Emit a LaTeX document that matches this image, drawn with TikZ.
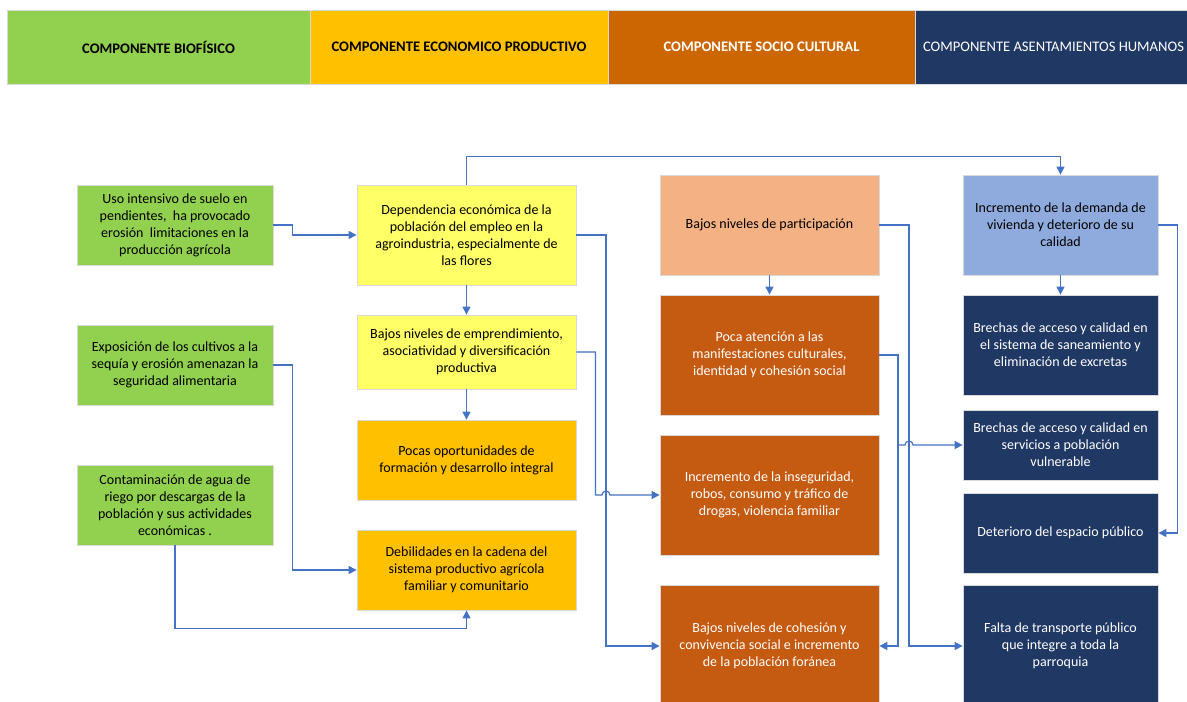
\documentclass[tikz,border=0pt]{standalone}
\usepackage{fontspec}
\setmainfont{Carlito}
\usepackage{tikz}
\usetikzlibrary{arrows.meta, calc}
\definecolor{verde}{HTML}{92D050}
\definecolor{ambar}{HTML}{FFC000}
\definecolor{amarillo}{HTML}{FFFF66}
\definecolor{salmon}{HTML}{F4B183}
\definecolor{oxido}{HTML}{C55A11}
\definecolor{naranja}{HTML}{CC6600}
\definecolor{marino}{HTML}{203864}
\definecolor{celeste}{HTML}{8FAADC}
\definecolor{linea}{HTML}{4472C4}
\definecolor{borde}{HTML}{D9D9D9}
\tikzstyle{caja} = [draw=borde, line width=0.8pt, align=center, inner sep=2pt, font=\fontsize{14}{17}\selectfont]
\tikzstyle{col1} = [caja, minimum width=196pt]
\tikzstyle{col2} = [caja, minimum width=219pt]
\tikzstyle{col4} = [caja, minimum width=195pt]
\tikzstyle{cabecera} = [draw=borde, line width=0.8pt, minimum height=74pt, font=\fontsize{14.6}{17}\selectfont\bfseries]
\tikzstyle{link} = [draw=linea, line width=1.2pt, -{Triangle[length=8pt,width=8pt]}]

\begin{document}
\begin{tikzpicture}[x=1pt, y=-1pt]
  \useasboundingbox (0,0) rectangle (1187,702);
  \fill[white] (0,0) rectangle (1187,702);
  \clip (0,0) rectangle (1187,702);

  % cabecera
  \node[cabecera, fill=verde, minimum width=303pt] (hbio) at (158.5,47) {COMPONENTE BIOFÍSICO};
  \node[cabecera, fill=ambar, minimum width=298pt] (heco) at (459,47) {COMPONENTE ECONOMICO PRODUCTIVO};
  \node[cabecera, fill=naranja, text=white, minimum width=307pt] (hsoc) at (761.5,47) {COMPONENTE SOCIO CULTURAL};
  \node[cabecera, fill=marino, text=white, minimum width=300pt,
        font=\fontsize{14.6}{17}\selectfont\mdseries] (hase) at (1065,47)
    {\makebox[284pt][l]{COMPONENTE ASENTAMIENTOS HUMANOS}};

  % biofisico
  \node[col1, fill=verde, minimum height=80pt] (g1) at (175,225)
    {Uso intensivo de suelo en\\pendientes,\ \ ha provocado\\erosión\ \ limitaciones en la\\producción agrícola};
  \node[col1, fill=verde, minimum height=80pt] (g2) at (175,365)
    {Exposición de los cultivos a la\\sequía y erosión amenazan la\\seguridad alimentaria};
  \node[col1, fill=verde, minimum height=80pt] (g3) at (175,505)
    {Contaminación de agua de\\riego por descargas de la\\población y sus actividades\\económicas .};

  % economico productivo
  \node[col2, fill=amarillo, minimum height=100pt] (y1) at (466.5,235)
    {Dependencia económica de la\\población del empleo en la\\agroindustria, especialmente de\\las flores};
  \node[col2, fill=amarillo, minimum height=74pt] (y2) at (466.5,352)
    {Bajos niveles de emprendimiento,\\asociatividad y diversificación\\productiva};
  \node[col2, fill=ambar, minimum height=80pt] (o1) at (466.5,460)
    {Pocas oportunidades de\\formación y desarrollo integral};
  \node[col2, fill=ambar, minimum height=80pt] (o2) at (466.5,570)
    {Debilidades en la cadena del\\sistema productivo agrícola\\familiar y comunitario};

  % socio cultural
  \node[col2, fill=salmon, minimum height=100pt] (s0) at (769.5,225) {Bajos niveles de participación};
  \node[col2, fill=oxido, text=white, minimum height=120pt] (r1) at (769.5,355)
    {Poca atención a las\\manifestaciones culturales,\\identidad y cohesión social};
  \node[col2, fill=oxido, text=white, minimum height=120pt] (r2) at (769.5,495)
    {Incremento de la inseguridad,\\robos, consumo y tráfico de\\drogas, violencia familiar};
  \node[col2, fill=oxido, text=white, minimum height=122pt] (r3) at (769.5,646)
    {Bajos niveles de cohesión y\\convivencia social e incremento\\de la población foránea};

  % asentamientos humanos
  \node[col4, fill=celeste, minimum height=100pt] (b0) at (1060.5,225)
    {Incremento de la demanda de\\vivienda y deterioro de su\\calidad};
  \node[col4, fill=marino, text=white, minimum height=100pt] (n1) at (1060.5,345)
    {Brechas de acceso y calidad en\\el sistema de saneamiento y\\eliminación de excretas};
  \node[col4, fill=marino, text=white, minimum height=70pt] (n2) at (1060.5,445)
    {Brechas de acceso y calidad en\\servicios a población\\vulnerable};
  \node[col4, fill=marino, text=white, minimum height=80pt] (n3) at (1060.5,533) {Deterioro del espacio público};
  \node[col4, fill=marino, text=white, minimum height=122pt] (n4) at (1060.5,646)
    {Falta de transporte público\\que integre a toda la\\parroquia};

  % puntos de quiebre
  \coordinate (v1) at (606,235);
  \coordinate (v2) at (898,355);
  \coordinate (v3) at (909,225);

  % conectores
  \draw[link] (g1.east) -- ++(19,0) |- (y1.west);
  \draw[link] (g2.east) -- ++(19,0) |- (o2.west);
  \draw[link] (g3.south) -- ++(0,83) -| (o2.south);
  \draw[link] (y1.north) -- ++(0,-28) -| (b0.north);
  \draw[link] (y1.south) -- (y2.north);
  \draw[link] (y2.south) -- (o1.north);
  \draw[link] (y1.east) -- (v1) |- (r3.west);
  \draw[link] (y2.east) -- ++(19,0) |- ($(v1 |- r2.west)+(-4,0)$)
    arc[start angle=180, end angle=0, radius=4pt] -- (r2.west);
  \draw[link] (s0.south) -- (r1.north);
  \draw[link] (s0.east) -- (v3) |- (n4.west);
  \draw[link] (r1.east) -- (v2) |- (r3.east);
  \draw[link] (v2 |- n2.west) -- ($(v3 |- n2.west)+(-4,0)$)
    arc[start angle=180, end angle=0, radius=4pt] -- (n2.west);
  \draw[link] (b0.south) -- (n1.north);
  \draw[link] (b0.east) -- ++(19,0) |- (n3.east);
\end{tikzpicture}
\end{document}
